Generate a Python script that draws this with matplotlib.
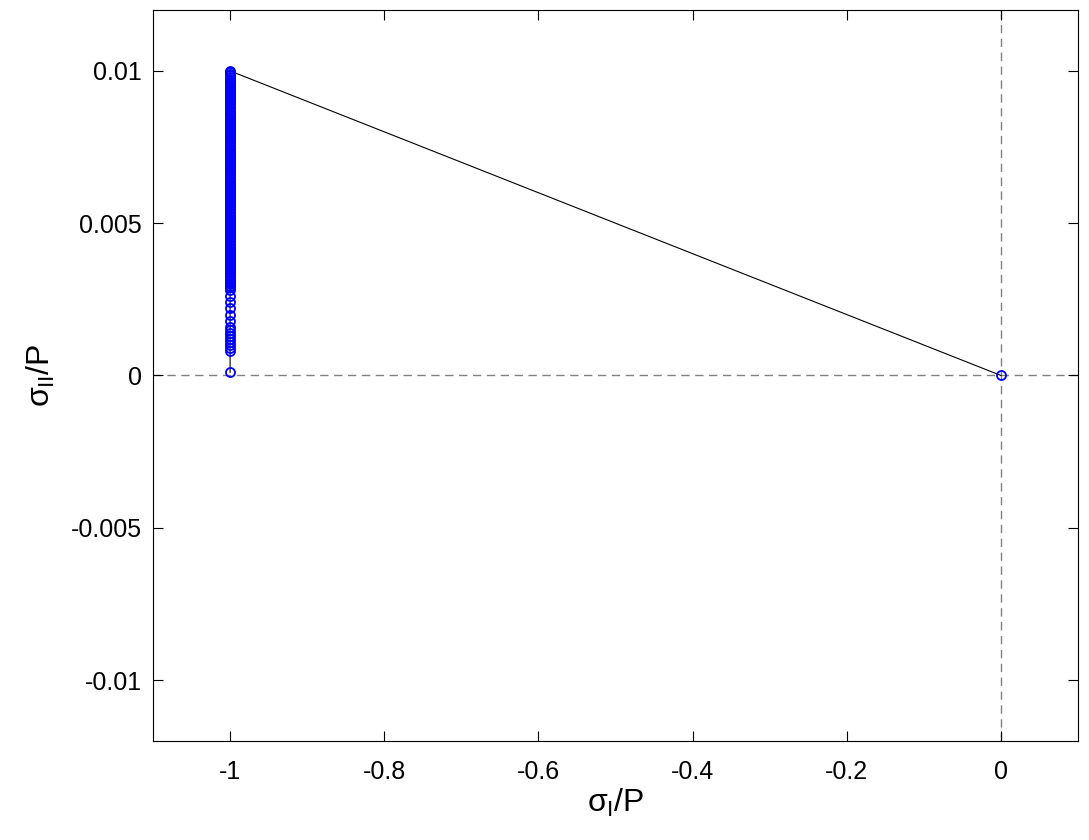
import matplotlib

matplotlib.use("Agg")
import matplotlib.pyplot as plt

plt.rcParams["font.family"] = ["Liberation Sans", "DejaVu Sans"]
plt.rcParams["mathtext.fontset"] = "custom"
plt.rcParams["mathtext.rm"] = "Liberation Sans"
plt.rcParams["mathtext.it"] = "Liberation Sans"

# Stress path: a dense column of states at sigma_I/P = -1, then the final point at origin.
sigma_ii = [
    0.0001, 0.0008, 0.0009, 0.0010, 0.0011, 0.0012, 0.0013, 0.0014, 0.0015,
    0.0016, 0.0018, 0.0020, 0.0022, 0.0024, 0.0026, 0.0028,
    0.00290, 0.00295, 0.00300, 0.00305, 0.00310, 0.00315, 0.00320, 0.00325,
    0.00330, 0.00335, 0.00340, 0.00345, 0.00350, 0.00355, 0.00360, 0.00365,
    0.00370, 0.00375, 0.00380, 0.00385, 0.00390, 0.00395, 0.00400, 0.00405,
    0.00410, 0.00415, 0.00420, 0.00425, 0.00430, 0.00435, 0.00440, 0.00445,
    0.00450, 0.00455, 0.00460, 0.00465, 0.00470, 0.00475, 0.00480, 0.00485,
    0.00490, 0.00495, 0.00500, 0.00505, 0.00510, 0.00515, 0.00520, 0.00525,
    0.00530, 0.00535, 0.00540, 0.00545, 0.00550, 0.00555, 0.00560, 0.00565,
    0.00570, 0.00575, 0.00580, 0.00585, 0.00590, 0.00595, 0.00600, 0.00605,
    0.00610, 0.00615, 0.00620, 0.00625, 0.00630, 0.00635, 0.00640, 0.00645,
    0.00650, 0.00655, 0.00660, 0.00665, 0.00670, 0.00675, 0.00680, 0.00685,
    0.00690, 0.00695, 0.00700, 0.00705, 0.00710, 0.00715, 0.00720, 0.00725,
    0.00730, 0.00735, 0.00740, 0.00745, 0.00750, 0.00755, 0.00760, 0.00765,
    0.00770, 0.00775, 0.00780, 0.00785, 0.00790, 0.00795, 0.00800, 0.00805,
    0.00810, 0.00815, 0.00820, 0.00825, 0.00830, 0.00835, 0.00840, 0.00845,
    0.00850, 0.00855, 0.00860, 0.00865, 0.00870, 0.00875, 0.00880, 0.00885,
    0.00890, 0.00895, 0.00900, 0.00905, 0.00910, 0.00915, 0.00920, 0.00925,
    0.00930, 0.00935, 0.00940, 0.00945, 0.00950, 0.00955, 0.00960, 0.00965,
    0.00970, 0.00975, 0.00980, 0.00985, 0.00990, 0.00995, 0.01000,
    0.0,
]
sigma_i = [-1.0] * (len(sigma_ii) - 1) + [0.0]

x_ticks = [-1, -0.8, -0.6, -0.4, -0.2, 0]
x_tick_labels = ["-1", "-0.8", "-0.6", "-0.4", "-0.2", "0"]
y_ticks = [-0.01, -0.005, 0, 0.005, 0.01]
y_tick_labels = ["-0.01", "-0.005", "0", "0.005", "0.01"]

fig = plt.figure(figsize=(10.89, 8.4), dpi=100)
ax = fig.add_axes([0.1405, 0.1179, 0.8494, 0.8702])

ax.axhline(0, color="#808080", linestyle=(0, (6, 4)), linewidth=1.0, zorder=1)
ax.axvline(0, color="#808080", linestyle=(0, (6, 4)), linewidth=1.0, zorder=1)

ax.plot(sigma_i, sigma_ii, color="black", linewidth=0.8, zorder=2)
ax.plot(sigma_i, sigma_ii, linestyle="none", marker="o", markersize=6.5,
        markerfacecolor="none", markeredgecolor="blue", markeredgewidth=1.3, zorder=3)

ax.set_xlim(-1.1, 0.1)
ax.set_ylim(-0.012, 0.012)
ax.set_xticks(x_ticks)
ax.set_xticklabels(x_tick_labels)
ax.set_yticks(y_ticks)
ax.set_yticklabels(y_tick_labels)
ax.tick_params(direction="in", top=True, right=True, length=7, labelsize=18)
ax.tick_params(axis="x", pad=14)
ax.tick_params(axis="y", pad=8)

ax.set_xlabel(r"$\sigma_{\mathrm{I}}$/P", fontsize=23, labelpad=2)
ax.set_ylabel(r"$\sigma_{\mathrm{II}}$/P", fontsize=23, labelpad=10)

fig.savefig("out.png", dpi=100)
